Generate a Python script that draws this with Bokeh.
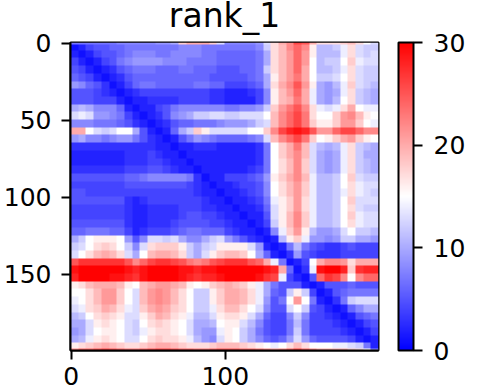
import numpy as np
from bokeh.embed import file_html
from bokeh.resources import INLINE
from bokeh.plotting import figure
from bokeh.models import LinearColorMapper, ColorBar, FixedTicker

TITLE = "rank_1"
X_TICKS = [0, 100]
Y_TICKS = [0, 50, 100, 150]
BAR_TICKS = [0, 10, 20, 30]
VMIN, VMAX = 0, 30

# Rows of the distance map (one value per 5 columns).
r000 = [7,7,7,7,7,7,8,8,8,8,8,9,9,10,18,20,20,20,18,13,8,8,8,8,9,13,17,20,22,26,25,20,17,17,17,18,19,17,15,13]
r001 = [1,2,4,5,5,6,6,7,7,7,7,7,7,7,8,8,8,7,7,7,7,7,7,7,8,12,17,19,22,24,22,16,11,11,12,14,17,13,12,12]
r005 = [2,1,2,4,5,5,6,7,8,8,8,7,7,8,8,8,8,7,7,6,6,6,6,6,7,10,17,19,21,24,21,16,11,11,11,14,17,13,12,13]
r010 = [4,2,1,2,4,5,7,8,9,9,9,9,8,8,8,7,7,7,7,6,6,6,6,6,7,10,17,19,21,24,21,15,11,12,12,15,18,14,13,13]
r015 = [5,4,2,1,2,3,5,6,7,7,7,6,6,6,7,7,6,6,6,5,5,5,6,6,7,12,17,19,21,24,20,15,11,11,12,14,17,13,12,12]
r020 = [6,5,4,2,1,2,3,5,6,6,6,6,6,6,6,6,6,6,5,5,5,5,5,6,7,10,16,19,21,23,20,15,12,12,13,15,17,13,12,12]
r025 = [9,8,6,5,3,1,2,4,6,7,7,6,6,6,6,6,7,7,6,6,4,4,4,5,6,10,17,20,22,25,21,16,10,9,11,14,18,13,12,11]
r030 = [5,5,5,4,3,2,1,2,3,4,4,4,4,4,4,4,4,4,3,3,2,2,2,3,4,8,16,19,21,24,20,14,10,9,10,14,17,12,11,10]
r035 = [5,5,5,4,4,4,2,1,2,2,3,3,3,3,4,4,4,4,3,3,2,2,2,2,4,8,16,19,20,23,20,14,10,9,11,15,17,12,11,10]
r040 = [10,11,10,8,8,8,6,2,1,2,2,4,5,7,8,8,8,8,8,8,7,7,8,8,9,12,18,21,23,25,22,17,14,13,14,17,20,15,14,14]
r045 = [13,14,13,9,9,8,7,4,2,1,2,3,5,8,9,10,12,12,13,13,12,12,13,13,13,15,19,22,24,26,23,17,15,15,18,21,22,19,16,15]
r050 = [8,8,8,7,7,7,6,5,3,2,1,2,3,5,6,6,7,7,7,8,9,9,9,10,12,13,19,22,24,26,23,18,16,16,18,21,21,18,15,14]
r055 = [20,20,15,13,12,13,15,15,10,5,2,1,2,6,10,12,18,16,13,13,13,13,13,15,15,18,22,26,28,29,28,25,21,21,24,26,26,24,22,22]
r060 = [9,10,8,8,7,8,9,9,7,5,3,2,1,2,5,7,9,8,7,6,6,6,6,7,8,13,19,22,24,26,23,18,15,16,18,20,21,18,16,15]
r065 = [3,3,3,3,3,3,3,3,3,3,3,2,2,1,2,2,3,3,3,2,2,2,2,2,3,7,15,18,20,23,19,13,11,10,11,14,17,12,11,10]
r070 = [2,2,2,2,2,2,2,3,3,3,4,3,2,2,1,2,2,2,2,2,2,2,2,2,3,7,15,18,20,22,19,13,10,9,10,14,17,12,10,10]
r075 = [2,2,2,2,2,2,2,3,3,3,4,4,3,2,2,1,2,2,2,2,2,2,2,2,3,7,15,17,19,22,18,13,10,9,10,14,17,12,11,10]
r080 = [3,3,3,3,3,3,3,4,4,4,5,5,4,3,2,2,1,2,2,2,2,2,2,3,4,7,15,17,19,22,18,13,10,9,10,14,17,12,11,10]
r085 = [5,5,5,5,5,5,5,6,6,7,8,8,8,8,8,7,3,1,2,2,4,4,4,5,6,9,16,18,20,22,19,14,11,11,12,15,18,13,12,12]
r090 = [4,4,4,4,4,4,4,5,5,5,5,5,5,5,5,4,3,2,1,2,2,3,4,4,5,8,15,17,19,21,18,14,11,11,12,15,17,14,13,13]
r095 = [5,5,4,4,4,4,4,4,4,4,4,4,4,4,4,4,3,2,2,1,2,2,3,4,5,8,15,17,19,21,18,14,11,11,12,14,17,14,13,12]
r100 = [5,5,5,5,5,5,5,3,2,3,4,4,4,4,4,4,4,3,2,2,1,2,2,3,4,7,14,16,18,21,17,14,11,11,12,15,18,13,13,13]
r105 = [4,4,4,4,4,4,4,3,2,2,3,3,3,3,4,4,4,3,3,2,2,1,2,2,3,6,13,16,18,21,17,14,11,11,12,15,17,13,12,12]
r110 = [4,4,4,4,4,4,4,3,2,2,3,3,3,3,4,5,5,4,4,3,2,2,1,2,2,5,13,16,19,22,18,14,11,11,12,15,18,14,13,13]
r115 = [5,5,5,5,5,5,5,3,2,2,3,3,3,4,5,5,5,5,4,4,3,2,2,1,2,4,12,16,19,22,18,14,11,11,12,15,17,14,13,13]
r120 = [6,6,7,7,7,6,6,4,2,3,4,4,4,5,6,7,7,6,6,6,4,3,2,2,1,2,8,14,18,21,16,11,9,9,10,13,15,12,12,11]
r125 = [10,12,15,16,16,16,15,9,5,8,13,13,12,13,10,8,8,10,12,13,9,7,5,3,2,1,2,11,16,18,14,9,9,8,9,12,12,10,10,9]
r130 = [12,13,15,17,18,17,15,12,8,13,17,18,18,18,16,12,10,12,13,16,16,16,16,13,9,2,1,2,7,11,7,5,4,3,3,4,5,4,4,4]
r135 = [13,15,17,19,20,19,17,13,10,15,19,20,20,19,17,12,10,13,16,18,19,19,18,15,10,6,2,1,3,9,5,4,3,3,3,4,4,4,4,4]
r140 = [25,27,27,27,27,27,27,25,22,24,26,27,27,26,25,23,22,23,25,26,27,27,27,25,24,20,14,7,1,2,4,15,20,22,22,21,17,20,20,20]
r145 = [29,30,30,30,30,30,30,29,28,29,30,30,30,30,29,29,28,29,29,30,30,30,30,30,30,29,28,20,6,1,3,14,29,30,30,28,18,27,28,28]
r150 = [28,30,30,30,30,29,29,28,27,29,30,30,30,30,29,28,27,28,28,29,30,30,30,30,29,27,26,14,4,2,1,5,24,27,26,22,15,22,24,24]
r155 = [16,17,19,20,20,20,19,16,15,19,20,21,21,20,19,16,15,16,18,19,20,19,18,16,14,10,7,5,5,5,2,1,2,5,5,5,6,5,5,5]
r160 = [15,15,17,19,21,21,18,15,13,19,21,22,21,19,17,15,12,12,16,18,20,20,19,17,14,10,6,5,12,16,12,4,1,2,5,6,7,7,7,7]
r165 = [14,15,17,19,21,21,18,15,13,19,21,22,21,19,17,15,12,12,16,18,20,20,19,17,14,9,5,7,15,21,15,7,2,1,3,7,12,13,13,13]
r170 = [13,14,17,18,20,19,17,14,13,18,20,21,20,18,17,15,12,12,14,17,19,19,17,15,13,8,5,5,13,15,12,5,4,2,1,2,6,8,10,10]
r175 = [11,12,15,17,18,17,16,13,13,16,18,20,19,17,16,14,11,11,13,16,17,17,16,13,10,6,4,4,8,12,8,4,4,3,2,1,2,5,6,7]
r180 = [10,10,13,16,17,16,15,13,12,15,17,18,17,16,15,13,10,10,11,15,16,16,13,11,8,5,4,4,7,11,7,4,4,4,3,2,1,2,4,5]
r185 = [9,10,13,15,16,16,15,13,12,14,16,17,17,16,15,13,10,9,9,14,16,15,12,10,7,5,4,4,7,12,7,4,4,4,4,3,2,1,2,4]
r190 = [10,11,14,16,17,16,15,13,13,15,17,18,17,17,16,14,11,9,8,13,16,15,12,10,8,6,5,6,9,13,9,6,5,5,5,5,4,2,1,2]
r195 = [16,17,18,19,20,19,18,17,17,18,19,20,20,19,18,17,17,17,18,19,19,19,18,17,16,15,14,15,17,19,17,15,15,15,14,14,13,12,7,2]
r199 = [22,24,24,25,26,25,24,23,23,24,25,26,26,25,24,24,23,23,24,25,25,25,24,24,23,22,21,22,24,26,24,22,20,20,20,20,18,17,15,8]

rows = [r000, r001, r005, r010, r015, r020, r025, r030, r035, r040, r045, r050, r055, r060,
        r065, r070, r075, r080, r085, r090, r095, r100, r105, r110, r115, r120, r125, r130,
        r135, r140, r145, r150, r155, r160, r165, r170, r175, r180, r185, r190, r195, r199]
row_spans = [1, 4] + [5] * 38 + [4, 1]
col_span = 5

grid = np.array(rows, dtype=float)
grid = np.repeat(np.repeat(grid, row_spans, axis=0), col_span, axis=1)

# matplotlib's "bwr": blue - white - red
blue_white = ["#%02x%02xff" % (i, i) for i in range(0, 256, 2)]
white_red = ["#ff%02x%02x" % (i, i) for i in range(255, -1, -2)]
palette = tuple(blue_white + white_red)
mapper = LinearColorMapper(palette=palette, low=VMIN, high=VMAX)

FONT = "DejaVu Sans"
p = figure(x_range=(-0.5, 199.5), y_range=(199.5, -0.5),
           frame_width=308, frame_height=308, min_border_left=69, min_border_top=42,
           min_border_bottom=41, min_border_right=0, margin=(-14, 0, 0, 0),
           output_backend="svg", toolbar_location=None, tools="")
p.image(image=[grid], x=-0.5, y=-0.5, dw=200, dh=200, color_mapper=mapper)

p.grid.visible = False
p.title.text = TITLE
p.title.align = "center"
p.title.text_font = FONT
p.title.text_font_size = "33px"
p.title.text_font_style = "normal"
p.title.text_color = "black"
p.title.offset = 0
p.title.standoff = 15

p.outline_line_color = "black"
p.outline_line_width = 2
p.outline_line_alpha = 1

for ax, ticks, standoff in ((p.xaxis[0], X_TICKS, 7), (p.yaxis[0], Y_TICKS, 10)):
    ax.ticker = FixedTicker(ticks=ticks)
    ax.axis_line_width = 2
    ax.axis_line_color = "black"
    ax.major_tick_line_width = 2
    ax.major_tick_line_color = "black"
    ax.major_tick_out = 9
    ax.major_tick_in = 0
    ax.minor_tick_out = 0
    ax.minor_tick_in = 0
    ax.major_label_text_font = FONT
    ax.major_label_text_font_size = "25px"
    ax.major_label_text_color = "black"
    ax.major_label_standoff = standoff

bar = ColorBar(color_mapper=mapper, ticker=FixedTicker(ticks=BAR_TICKS), width=15,
               height=308, padding=0, margin=0, bar_line_color="black", bar_line_width=2,
               major_tick_line_color="black", major_tick_line_width=2,
               major_tick_in=0, major_tick_out=9, minor_tick_line_color=None,
               label_standoff=11, major_label_text_font=FONT,
               major_label_text_font_size="25px", major_label_text_color="black",
               location=(20, 0), background_fill_alpha=0)
p.add_layout(bar, "right")

open("out.html", "w").write(file_html(p, INLINE))
